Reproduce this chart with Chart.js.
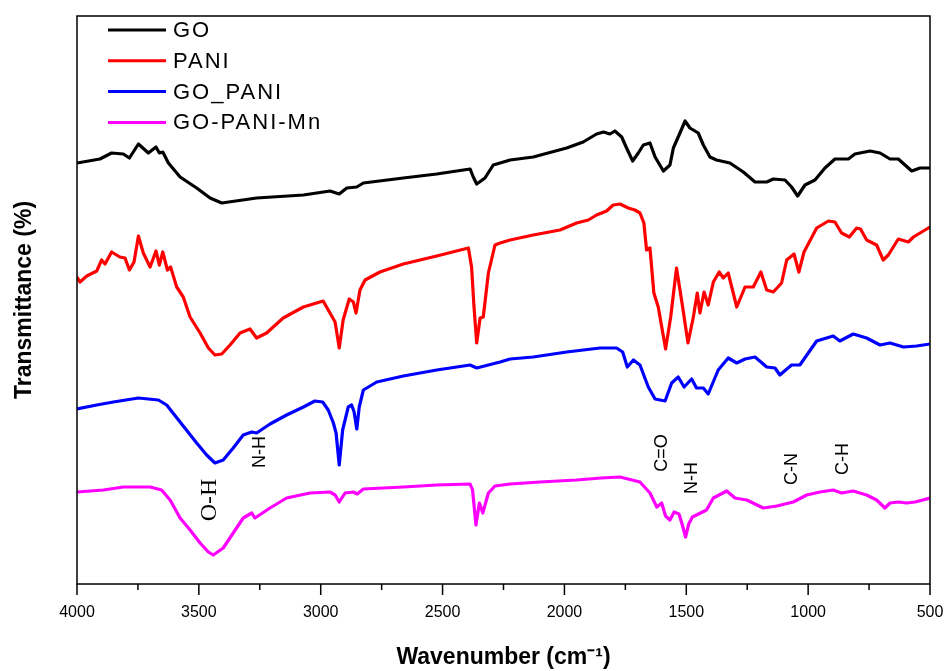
<!DOCTYPE html>
<html>
<head>
<meta charset="utf-8">
<title>FTIR spectra</title>
<script src="https://cdn.jsdelivr.net/npm/chart.js@4.4.1/dist/chart.umd.min.js"></script>
<style>
  body { margin: 0; background: #fff; }
  #wrap { width: 948px; height: 671px; }
</style>
</head>
<body>
<div id="wrap"><canvas id="ftir" width="948" height="671"></canvas></div>
<script>
// FTIR spectra, curves stacked with an offset (arbitrary transmittance units)
const seriesNames = ['GO', 'PANI', 'GO_PANI', 'GO-PANI-Mn'];
const seriesColors = ['#000000', '#ff0000', '#0000ff', '#ff00ff'];

const goWave = [4000,3906,3858,3810,3785,3748,3707,3676,3662,3648,3625,3577,3509,3454,3406,3263,3071,2962,2924,2893,2852,2825,2661,2524,2387,2374,2360,2326,2292,2264,2223,2128,1991,1923,1868,1840,1813,1793,1765,1745,1720,1697,1676,1649,1628,1594,1567,1553,1526,1505,1485,1451,1430,1403,1376,1321,1266,1218,1170,1143,1095,1068,1043,1013,972,931,890,835,808,746,705,664,630,575,541,500];
const goT = [421,425,431,430,426,440,431,437,431,432,421,407,396,386,381,386,389,393,390,396,397,401,406,410,415,407,400,406,419,421,424,427,436,442,450,452,450,453,447,436,423,431,439,441,427,413,419,436,451,463,456,451,439,427,424,421,412,402,402,405,404,397,388,399,404,416,425,425,430,433,431,425,425,413,416,416];

const paniWave = [4000,3988,3960,3919,3899,3885,3858,3824,3803,3785,3766,3748,3728,3700,3676,3662,3648,3629,3616,3591,3564,3536,3495,3461,3434,3406,3372,3331,3290,3263,3222,3154,3071,2990,2962,2941,2924,2908,2883,2866,2855,2839,2818,2757,2661,2524,2394,2381,2371,2360,2346,2333,2312,2285,2264,2223,2128,2018,1950,1902,1868,1827,1800,1772,1738,1711,1690,1674,1663,1649,1633,1615,1585,1564,1540,1515,1493,1471,1455,1444,1427,1410,1389,1365,1348,1328,1293,1259,1225,1194,1170,1143,1109,1088,1058,1038,1017,965,917,890,863,831,801,785,760,719,692,671,630,589,568,534,500];
const paniT = [307,302,308,313,324,320,332,327,326,314,322,348,331,317,333,319,332,314,317,297,287,267,251,236,229,230,239,251,255,246,251,266,277,283,271,262,236,264,285,282,271,294,304,312,320,328,336,317,277,241,266,267,311,339,341,344,349,354,361,364,369,373,379,380,376,374,371,361,334,336,291,277,235,267,316,277,241,267,291,271,292,279,302,312,306,311,277,297,297,312,294,292,301,324,330,312,332,356,363,362,351,347,356,355,344,339,324,329,345,342,347,352,357];

const goPaniWave = [4000,3919,3851,3748,3666,3632,3577,3509,3468,3434,3400,3359,3318,3283,3263,3208,3140,3071,3024,2992,2969,2948,2937,2924,2910,2887,2873,2863,2852,2842,2825,2770,2661,2524,2387,2360,2264,2223,2128,1991,1854,1786,1761,1742,1717,1690,1656,1628,1587,1560,1533,1509,1478,1458,1430,1410,1369,1328,1293,1259,1218,1170,1136,1116,1068,1034,965,897,870,815,760,705,664,609,555,500];
const goPaniT = [175,179,182,186,184,179,162,141,129,121,124,136,149,152,151,160,169,177,183,182,174,161,151,119,154,177,179,172,155,177,194,202,208,214,219,216,222,225,227,232,236,236,232,217,224,219,197,185,183,201,207,197,205,196,196,190,214,226,221,225,227,217,216,209,219,219,243,248,243,250,246,239,241,237,238,240];

const mnWave = [4000,3892,3810,3700,3653,3618,3577,3536,3495,3461,3441,3400,3359,3318,3283,3270,3208,3140,3044,2962,2941,2924,2900,2866,2850,2825,2661,2524,2387,2377,2363,2349,2335,2312,2285,2223,2100,1950,1850,1772,1690,1649,1621,1601,1585,1567,1550,1530,1515,1503,1490,1475,1458,1417,1389,1334,1300,1252,1184,1129,1061,1006,951,897,863,815,760,719,685,664,630,596,561,500];
const mnT = [92,94,97,97,94,84,66,54,41,32,29,36,51,66,71,66,76,86,91,92,89,82,91,92,90,95,97,99,100,94,59,81,71,91,98,100,102,104,106,107,102,91,77,81,68,64,72,70,58,47,60,67,69,74,86,93,86,84,76,78,82,89,92,94,91,93,89,84,76,81,82,81,82,86];

// band assignments: label, wavenumber, level
const noteLabels = ['O-H', 'N-H', 'C=O', 'N-H', 'C-N', 'C-H'];
const noteWave = [3454, 3249, 1600, 1477, 1066, 857];
const noteLevel = [84, 132, 131, 106, 115, 125];

const xMin = 500, xMax = 4000;
const yMin = 0, yMax = 568;

const allWave = [goWave, paniWave, goPaniWave, mnWave];
const allT = [goT, paniT, goPaniT, mnT];

const datasets = seriesNames.map((name, i) => ({
  label: name,
  data: allWave[i].map((w, j) => ({ x: w, y: allT[i][j] })),
  borderColor: seriesColors[i],
  backgroundColor: seriesColors[i],
  borderWidth: 3.2,
  pointRadius: 0,
  tension: 0,
  borderJoinStyle: 'round',
  fill: false
}));

const sansFont = "Arial, 'Liberation Sans', sans-serif";

const framePlugin = {
  id: 'frame',
  afterDraw(chart) {
    const { ctx, chartArea: a, scales } = chart;
    ctx.save();
    ctx.strokeStyle = '#000';
    ctx.lineWidth = 1.5;
    ctx.strokeRect(a.left, a.top, a.right - a.left, a.bottom - a.top);
    // major + minor ticks
    for (let v = xMin; v <= xMax; v += 250) {
      const px = scales.x.getPixelForValue(v);
      const len = v % 500 === 0 ? 11 : 6;
      ctx.beginPath();
      ctx.moveTo(px, a.bottom);
      ctx.lineTo(px, a.bottom + len);
      ctx.stroke();
    }
    ctx.restore();
  }
};

const notesPlugin = {
  id: 'notes',
  afterDatasetsDraw(chart) {
    const { ctx, scales } = chart;
    ctx.save();
    ctx.fillStyle = '#000';
    ctx.textAlign = 'center';
    ctx.textBaseline = 'middle';
    noteLabels.forEach((txt, i) => {
      const px = scales.x.getPixelForValue(noteWave[i]);
      const py = scales.y.getPixelForValue(noteLevel[i]);
      ctx.save();
      ctx.translate(px, py);
      ctx.rotate(-Math.PI / 2);
      ctx.font = i === 0 ? "24px 'Times New Roman', 'Liberation Serif', serif" : '18px ' + sansFont;
      ctx.fillText(txt, 0, 0);
      ctx.restore();
    });
    ctx.restore();
  }
};

const legendPlugin = {
  id: 'boxLegend',
  afterDatasetsDraw(chart) {
    const { ctx, chartArea: a } = chart;
    ctx.save();
    ctx.font = '22px ' + sansFont;
    try { ctx.letterSpacing = '2px'; } catch (e) {}
    ctx.textBaseline = 'middle';
    chart.data.datasets.forEach((ds, i) => {
      const y = a.top + 14 + i * 30.8;
      ctx.strokeStyle = ds.borderColor;
      ctx.lineWidth = 3;
      ctx.beginPath();
      ctx.moveTo(a.left + 31, y);
      ctx.lineTo(a.left + 89, y);
      ctx.stroke();
      ctx.fillStyle = '#000';
      ctx.fillText(ds.label, a.left + 96, y + 1);
    });
    ctx.restore();
  }
};

new Chart(document.getElementById('ftir'), {
  type: 'line',
  data: { datasets: datasets },
  options: {
    responsive: false,
    animation: false,
    layout: { padding: { top: 16, right: 18, left: 0, bottom: 0 } },
    plugins: { legend: { display: false }, tooltip: { enabled: false } },
    scales: {
      x: {
        type: 'linear',
        reverse: true,
        min: xMin,
        max: xMax,
        afterFit: (s) => { s.height = 87; s.paddingLeft = 0; s.paddingRight = 0; },
        border: { display: false },
        grid: { drawOnChartArea: false, tickLength: 11, tickColor: 'rgba(0,0,0,0)' },
        ticks: {
          stepSize: 250,
          autoSkip: false,
          maxRotation: 0,
          padding: 8,
          color: '#000',
          font: { family: sansFont, size: 16 },
          callback: (v) => (v % 500 === 0 ? String(v) : '')
        },
        title: {
          display: true,
          text: 'Wavenumber (cm⁻¹)',
          color: '#000',
          font: { family: sansFont, size: 23, weight: 'bold' },
          padding: { top: 0, bottom: 0 }
        }
      },
      y: {
        min: yMin,
        max: yMax,
        afterFit: (s) => { s.width = 77; },
        border: { display: false },
        grid: { display: false },
        ticks: { display: false },
        title: {
          display: true,
          text: 'Transmittance (%)',
          color: '#000',
          font: { family: sansFont, size: 23, weight: 'bold' },
          padding: { top: 11, bottom: 0 }
        }
      }
    }
  },
  plugins: [framePlugin, notesPlugin, legendPlugin]
});
</script>
</body>
</html>
